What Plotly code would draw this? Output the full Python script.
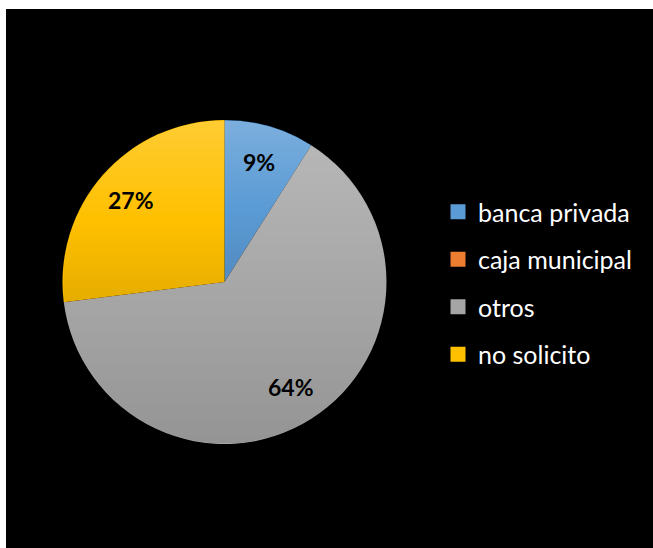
import base64
import struct
import zlib

import numpy as np
import plotly.graph_objects as go

# Source of financing (share of respondents)
categories = ["banca privada", "caja municipal", "otros", "no solicito"]
values = [9, 0, 64, 27]
colors = ["#5B9BD5", "#ED7D31", "#A5A5A5", "#FFC000"]

W, H = 653, 548
FONT = "Lato, 'Open Sans', sans-serif"

# Pie geometry in pixels
cx, cy, r = 224.5, 282.0, 162.0
dom_x = [(cx - r) / W, (cx + r) / W]
dom_y = [(H - cy - r) / H, (H - cy + r) / H]

total = float(sum(values))
fracs = np.array(values, dtype=float) / total
starts = np.concatenate([[0.0], np.cumsum(fracs)[:-1]])
ends = starts + fracs


def png_data_uri(rgba):
    """Encode an (h, w, 4) uint8 array as a PNG data URI."""
    h, w, _ = rgba.shape
    raw = b"".join(b"\x00" + rgba[row].tobytes() for row in range(h))

    def chunk(tag, data):
        c = struct.pack(">I", len(data)) + tag + data
        return c + struct.pack(">I", zlib.crc32(tag + data) & 0xFFFFFFFF)

    png = (b"\x89PNG\r\n\x1a\n"
           + chunk(b"IHDR", struct.pack(">IIBBBBB", w, h, 8, 6, 0, 0, 0))
           + chunk(b"IDAT", zlib.compress(raw, 9))
           + chunk(b"IEND", b""))
    return "data:image/png;base64," + base64.b64encode(png).decode()


def shading_overlay(size):
    """Per-slice vertical shading: lighter at the top of each slice, darker at the bottom."""
    yy, xx = np.mgrid[0:size, 0:size].astype(float) + 0.5
    dx, dy = xx - size / 2, yy - size / 2
    dist = np.hypot(dx, dy)
    inside = dist <= size / 2 - 0.6
    # clockwise angle from 12 o'clock, as a fraction of the full turn
    ang = (np.degrees(np.arctan2(dx, -dy)) % 360) / 360.0
    out = np.zeros((size, size, 4), dtype=np.uint8)
    for s, e in zip(starts, ends):
        if e - s <= 0:
            continue
        m = inside & (ang >= s) & (ang < e)
        if not m.any():
            continue
        ys = yy[m]
        t = (yy - ys.min()) / max(ys.max() - ys.min(), 1.0)
        light = np.clip(0.2 * (1 - t / 0.55), 0, None)
        dark = np.clip(0.1 * (t - 0.55) / 0.45, 0, None)
        is_light = light > 0
        out[m & is_light, :3] = 255
        out[m & is_light, 3] = (light[m & is_light] * 255).astype(np.uint8)
        out[m & ~is_light, :3] = 0
        out[m & ~is_light, 3] = (dark[m & ~is_light] * 255).astype(np.uint8)
    return out


fig = go.Figure()

fig.add_trace(go.Pie(
    labels=categories,
    values=values,
    sort=False,
    direction="clockwise",
    rotation=0,
    marker=dict(colors=colors, line=dict(width=0)),
    textinfo="none",
    showlegend=False,
    hoverinfo="label+percent",
    domain=dict(x=dom_x, y=dom_y),
))

# Percentage labels placed along each slice's mid-angle
annotations = []
for v, s, e in zip(values, starts, ends):
    if v <= 0:
        continue
    mid = 2 * np.pi * (s + e) / 2
    lx = cx + 0.77 * r * np.sin(mid)
    ly = cy - 0.77 * r * np.cos(mid)
    annotations.append(dict(
        x=lx / W, y=1 - ly / H, xref="paper", yref="paper",
        text=f"{v / total:.0%}", showarrow=False,
        font=dict(family=FONT, size=23, color="black", weight="bold"),
        xanchor="center", yanchor="middle",
    ))

# Legend entries: one group per category so the rows can be spaced out
for name, col in zip(categories, colors):
    fig.add_trace(go.Scatter(
        x=[None], y=[None], mode="markers", name=name,
        legendgroup=name,
        marker=dict(symbol="square", size=15, color=col),
    ))

size = int(round(2 * r))
fig.update_layout(
    width=W, height=H,
    margin=dict(l=0, r=0, t=0, b=0),
    paper_bgcolor="white",
    plot_bgcolor="rgba(0,0,0,0)",
    xaxis=dict(visible=False),
    yaxis=dict(visible=False),
    legend=dict(
        x=438 / W, y=1 - 189 / H, xanchor="left", yanchor="top",
        font=dict(family=FONT, size=25, color="white"),
        bgcolor="rgba(0,0,0,0)",
        tracegroupgap=12,
        itemwidth=30,
    ),
    shapes=[dict(
        type="rect", xref="paper", yref="paper", layer="below",
        x0=6 / W, x1=1, y0=0, y1=1 - 9 / H,
        fillcolor="black", line=dict(width=0),
    )],
    images=[dict(
        source=png_data_uri(shading_overlay(size)),
        xref="paper", yref="paper",
        x=dom_x[0], y=dom_y[1], sizex=dom_x[1] - dom_x[0], sizey=dom_y[1] - dom_y[0],
        xanchor="left", yanchor="top", sizing="stretch", layer="above",
    )],
    annotations=annotations,
)

fig.write_html("out.html")
